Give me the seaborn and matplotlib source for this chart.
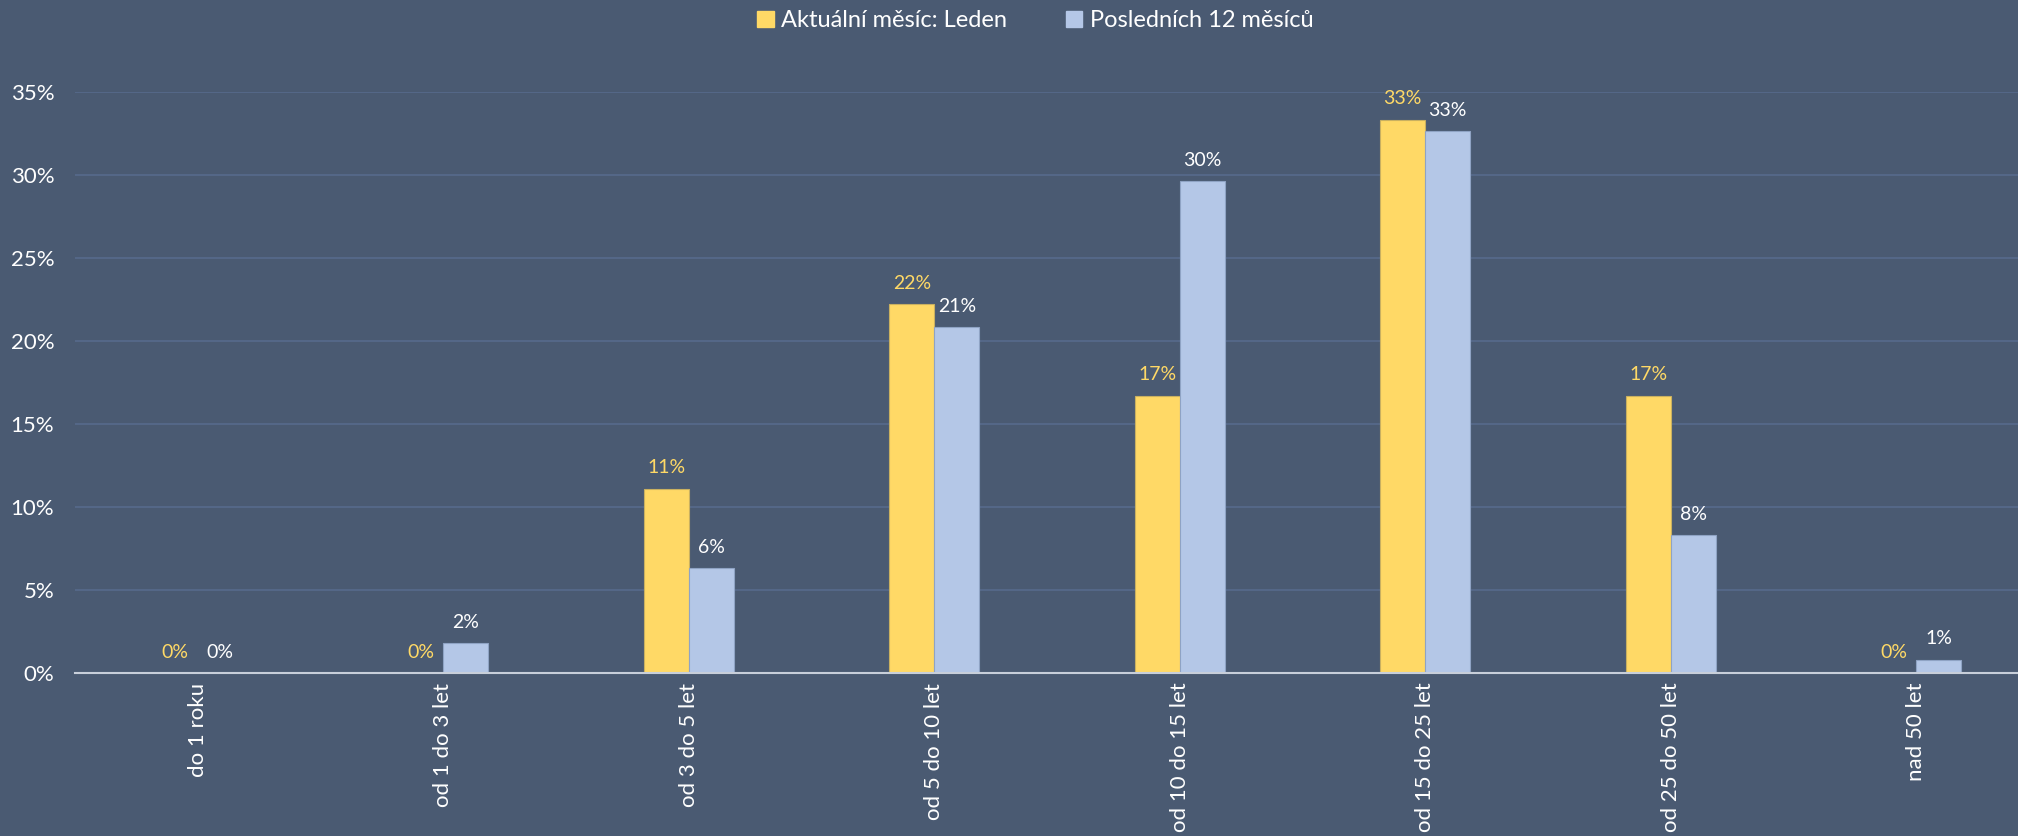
import pandas as pd
import matplotlib.pyplot as plt
import seaborn as sns

categories = ['do 1 roku', 'od 1 do 3 let', 'od 3 do 5 let', 'od 5 do 10 let',
              'od 10 do 15 let', 'od 15 do 25 let', 'od 25 do 50 let', 'nad 50 let']
current_month = [0.0, 0.0, 11.1, 22.2, 16.7, 33.3, 16.7, 0.0]
last_12_months = [0.0, 1.8, 6.3, 20.8, 29.6, 32.6, 8.3, 0.8]
series_names = ['Aktuální měsíc: Leden', 'Posledních 12 měsíců']

bg = '#4A5A72'
grid_col = '#56698A'
yellow = '#FFD966'
blue = '#B4C7E7'

df = pd.DataFrame({
    'kategorie': categories * 2,
    'hodnota': current_month + last_12_months,
    'serie': [series_names[0]] * len(categories) + [series_names[1]] * len(categories),
})

sns.set_style('white')
plt.rcParams['font.family'] = ['Lato', 'DejaVu Sans']

fig = plt.figure(figsize=(20.18, 8.36), dpi=100, facecolor=bg)
# plot area runs a little past the right edge, as in the original
ax = fig.add_axes([75 / 2018, 1 - 673 / 836, 1964 / 2018, (673 - 91.5) / 836])
ax.set_facecolor(bg)

sns.barplot(data=df, x='kategorie', y='hodnota', hue='serie',
            palette=[yellow, blue], width=0.366, gap=0, saturation=1, ax=ax,
            order=categories, hue_order=series_names, legend=False)

# bar edges like the original
for patch, ec in zip(ax.patches, ['#C9B060'] * 8 + ['#8FA3C4'] * 8):
    patch.set_edgecolor(ec)
    patch.set_linewidth(0.8)

# data labels
for cont, col in zip(ax.containers, [yellow, 'white']):
    labels = ['%d%%' % round(v) for v in cont.datavalues]
    ax.bar_label(cont, labels=labels, padding=9, color=col, fontsize=14)

ax.set_ylim(0, 35)
ax.set_xlim(-0.5, len(categories) - 0.5)
ax.set_yticks(range(0, 36, 5))
ax.set_yticklabels(['%d%%' % v for v in range(0, 36, 5)])
ax.yaxis.grid(True, color=grid_col, linewidth=1.3)
ax.set_axisbelow(True)
ax.set_xlabel('')
ax.set_ylabel('')

for side in ['top', 'right', 'left']:
    ax.spines[side].set_visible(False)
ax.spines['bottom'].set_color('#C8CFDA')
ax.spines['bottom'].set_linewidth(1.5)

ax.tick_params(axis='y', length=0, pad=15, labelsize=16, labelcolor='white')
ax.tick_params(axis='x', length=0, pad=7, labelsize=16, labelcolor='white')
plt.setp(ax.get_xticklabels(), rotation=90, va='top', ha='center')

handles = [plt.Rectangle((0, 0), 1, 1, color=yellow), plt.Rectangle((0, 0), 1, 1, color=blue)]
fig.legend(handles, series_names, loc='center', bbox_to_anchor=(0.513, 0.975),
           ncol=2, frameon=False, fontsize=17, labelcolor='white',
           handlelength=0.7, handleheight=0.7, handletextpad=0.3, columnspacing=2.5)

fig.savefig('out.png', dpi=100, facecolor=bg)
